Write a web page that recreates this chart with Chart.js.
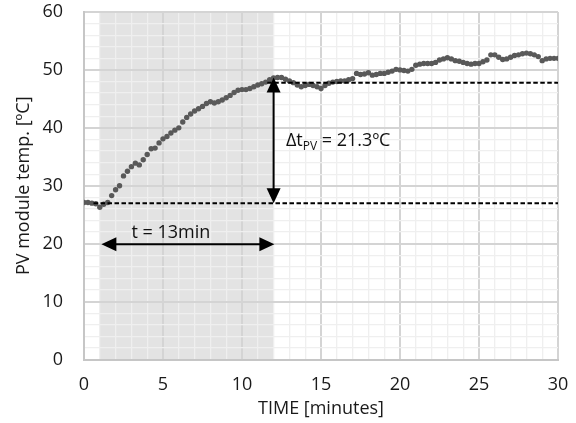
<!DOCTYPE html>
<html>
<head>
<meta charset="utf-8">
<script src="https://cdn.jsdelivr.net/npm/chart.js@4/dist/chart.umd.min.js"></script>
<style>
  html, body { margin: 0; padding: 0; background: #ffffff; }
  #wrap { width: 576px; height: 423px; }
</style>
</head>
<body>
<div id="wrap"><canvas id="c" width="576" height="423"></canvas></div>
<script>
// ---- data ----
const times = [
  0, 0.25, 0.5, 0.75, 1, 1.25, 1.5, 1.75, 2, 2.25, 2.5, 2.75,
  3, 3.25, 3.5, 3.75, 4, 4.25, 4.5, 4.75, 5, 5.25, 5.5, 5.75,
  6, 6.25, 6.5, 6.75, 7, 7.25, 7.5, 7.75, 8, 8.25, 8.5, 8.75,
  9, 9.25, 9.5, 9.75, 10, 10.25, 10.5, 10.75, 11, 11.25, 11.5, 11.75,
  12, 12.25, 12.5, 12.75, 13, 13.25, 13.5, 13.75, 14, 14.25, 14.5, 14.75,
  15, 15.25, 15.5, 15.75, 16, 16.25, 16.5, 16.75, 17, 17.25, 17.5, 17.75,
  18, 18.25, 18.5, 18.75, 19, 19.25, 19.5, 19.75, 20, 20.25, 20.5, 20.75,
  21, 21.25, 21.5, 21.75, 22, 22.25, 22.5, 22.75, 23, 23.25, 23.5, 23.75,
  24, 24.25, 24.5, 24.75, 25, 25.25, 25.5, 25.75, 26, 26.25, 26.5, 26.75,
  27, 27.25, 27.5, 27.75, 28, 28.25, 28.5, 28.75, 29, 29.25, 29.5, 29.75, 30
];
const temps = [
  27.1, 27.1, 27.0, 26.9, 26.3, 26.8, 27.1, 28.3, 29.3, 30.0, 31.7, 32.5,
  33.3, 33.9, 33.6, 34.5, 35.4, 36.4, 36.5, 37.4, 38.1, 38.5, 39.1, 39.6,
  40.0, 41.0, 41.8, 42.4, 42.9, 43.3, 43.7, 44.2, 44.5, 44.3, 44.5, 44.8,
  45.2, 45.6, 46.1, 46.5, 46.6, 46.6, 46.8, 47.1, 47.4, 47.6, 47.9, 48.3,
  48.6, 48.7, 48.7, 48.4, 48.1, 47.8, 47.4, 47.1, 47.3, 47.5, 47.3, 47.1,
  46.8, 47.3, 47.7, 47.9, 48.0, 48.1, 48.1, 48.3, 48.5, 49.4, 49.2, 49.3,
  49.5, 49.1, 49.2, 49.4, 49.4, 49.6, 49.8, 50.1, 50.0, 49.9, 49.8, 50.1,
  50.8, 51.0, 51.1, 51.1, 51.1, 51.3, 51.7, 51.9, 52.1, 51.9, 51.6, 51.5,
  51.3, 51.1, 51.0, 51.1, 51.1, 51.4, 51.7, 52.6, 52.6, 52.2, 51.8, 51.9,
  52.2, 52.5, 52.6, 52.8, 52.9, 52.8, 52.6, 52.3, 51.6, 51.9, 52.0, 52.0, 52.0
];
// axis ranges / tick labels
const xTickLabels = [0, 5, 10, 15, 20, 25, 30];
const yTickLabels = [0, 10, 20, 30, 40, 50, 60];
// annotations (in data units)
const shadeRange = [1, 12];
const baseLineX = [0.6, 30];
const baseLineY = [27.0, 27.0];
const peakLineX = [11.6, 30];
const peakLineY = [47.8, 47.8];
const deltaArrow = { x: 12, y0: 27.0, y1: 48.7 };
const spanArrow = { x0: 1.1, x1: 12.05, y: 19.9 };
const spanLabel = { text: 't = 13min', x: 3.0, y: 20.9 };
const deltaLabel = { main: 'Δt', sub: 'PV', rest: ' = 21.3ºC', x: 12.78, y: 36.8 };

const FONT = '"Open Sans", "Liberation Sans", sans-serif';
const FS = 18;

const shadePlugin = {
  id: 'shade',
  beforeDraw(chart) {
    const { ctx, chartArea, scales } = chart;
    const x0 = scales.x.getPixelForValue(shadeRange[0]);
    const x1 = scales.x.getPixelForValue(shadeRange[1]);
    ctx.save();
    ctx.fillStyle = '#e3e3e3';
    ctx.fillRect(x0, chartArea.top, x1 - x0, chartArea.bottom - chartArea.top);
    ctx.restore();
  }
};

function head(ctx, tx, ty, dx, dy, len, w) {
  const px = -dy, py = dx;
  ctx.beginPath();
  ctx.moveTo(tx, ty);
  ctx.lineTo(tx - dx * len + px * w / 2, ty - dy * len + py * w / 2);
  ctx.lineTo(tx - dx * len - px * w / 2, ty - dy * len - py * w / 2);
  ctx.closePath();
  ctx.fill();
}

const annoPlugin = {
  id: 'anno',
  afterDatasetsDraw(chart) {
    const { ctx, scales } = chart;
    const X = v => scales.x.getPixelForValue(v);
    const Y = v => scales.y.getPixelForValue(v);
    const L = 15, W = 14;
    ctx.save();
    ctx.strokeStyle = '#000';
    ctx.fillStyle = '#000';
    ctx.lineWidth = 2;
    const ax = X(deltaArrow.x), ay0 = Y(deltaArrow.y0), ay1 = Y(deltaArrow.y1);
    ctx.beginPath(); ctx.moveTo(ax, ay0 - L + 1); ctx.lineTo(ax, ay1 + L - 1); ctx.stroke();
    head(ctx, ax, ay0, 0, 1, L, W);
    head(ctx, ax, ay1, 0, -1, L, W);
    const hx0 = X(spanArrow.x0), hx1 = X(spanArrow.x1), hy = Y(spanArrow.y);
    ctx.beginPath(); ctx.moveTo(hx0 + L - 1, hy); ctx.lineTo(hx1 - L + 1, hy); ctx.stroke();
    head(ctx, hx0, hy, -1, 0, L, W);
    head(ctx, hx1, hy, 1, 0, L, W);
    ctx.fillStyle = '#111';
    ctx.textBaseline = 'alphabetic';
    ctx.textAlign = 'left';
    ctx.font = FS + 'px ' + FONT;
    ctx.fillText(spanLabel.text, X(spanLabel.x), Y(spanLabel.y));
    let lx = X(deltaLabel.x), ly = Y(deltaLabel.y);
    ctx.fillText(deltaLabel.main, lx, ly);
    lx += ctx.measureText(deltaLabel.main).width;
    ctx.font = '12px ' + FONT;
    ctx.fillText(deltaLabel.sub, lx, ly + 4);
    lx += ctx.measureText(deltaLabel.sub).width;
    ctx.font = FS + 'px ' + FONT;
    ctx.fillText(deltaLabel.rest, lx, ly);
    ctx.restore();
  }
};

const points = times.map((t, i) => ({ x: t, y: temps[i] }));
const toXY = (xs, ys) => xs.map((v, i) => ({ x: v, y: ys[i] }));

new Chart(document.getElementById('c'), {
  type: 'scatter',
  data: {
    datasets: [
      {
        data: toXY(baseLineX, baseLineY),
        showLine: true, borderColor: '#000', borderWidth: 2, borderDash: [4.5, 2.5],
        pointRadius: 0
      },
      {
        data: toXY(peakLineX, peakLineY),
        showLine: true, borderColor: '#000', borderWidth: 2, borderDash: [4.5, 2.5],
        pointRadius: 0
      },
      {
        data: points,
        showLine: false,
        pointRadius: 2.7,
        pointBackgroundColor: '#595959',
        pointBorderWidth: 0,
        borderColor: '#595959'
      }
    ]
  },
  options: {
    responsive: false,
    animation: false,
    events: [],
    layout: { padding: { left: 0, right: 18, top: 12, bottom: 0 } },
    plugins: { legend: { display: false }, tooltip: { enabled: false } },
    scales: {
      x: {
        type: 'linear', min: 0, max: 30,
        afterFit(s) { s.height = 63.5; s.paddingLeft = 0; s.paddingRight = 0; },
        ticks: {
          stepSize: 1, autoSkip: false, maxRotation: 0, padding: 15,
          color: '#1a1a1a', font: { family: FONT, size: FS },
          callback: v => xTickLabels.includes(v) ? String(v) : ''
        },
        grid: {
          drawTicks: false,
          color: c => (c.tick && c.tick.value % 5 === 0) ? '#d4d4d4' : '#efefef',
          lineWidth: c => (c.tick && c.tick.value % 5 === 0) ? 2 : 1.3
        },
        border: { display: true, color: '#c6c6c6', width: 2 },
        title: {
          display: true, text: 'TIME [minutes]', color: '#1a1a1a',
          font: { family: FONT, size: FS }, padding: { top: 0, bottom: 3 }
        }
      },
      y: {
        type: 'linear', min: 0, max: 60,
        afterFit(s) { s.width = 84; s.paddingTop = 0; s.paddingBottom = 0; },
        ticks: {
          stepSize: 2, autoSkip: false, padding: 21,
          color: '#1a1a1a', font: { family: FONT, size: FS },
          callback: v => yTickLabels.includes(v) ? String(v) : ''
        },
        grid: {
          drawTicks: false,
          color: c => (c.tick && c.tick.value % 10 === 0) ? '#d4d4d4' : '#efefef',
          lineWidth: c => (c.tick && c.tick.value % 10 === 0) ? 2 : 1.3
        },
        border: { display: true, color: '#c6c6c6', width: 2 },
        title: {
          display: true, text: 'PV module temp. [ºC]', color: '#1a1a1a',
          font: { family: FONT, size: FS }, padding: { top: 13, bottom: 0 }
        }
      }
    }
  },
  plugins: [shadePlugin, annoPlugin]
});
</script>
</body>
</html>
